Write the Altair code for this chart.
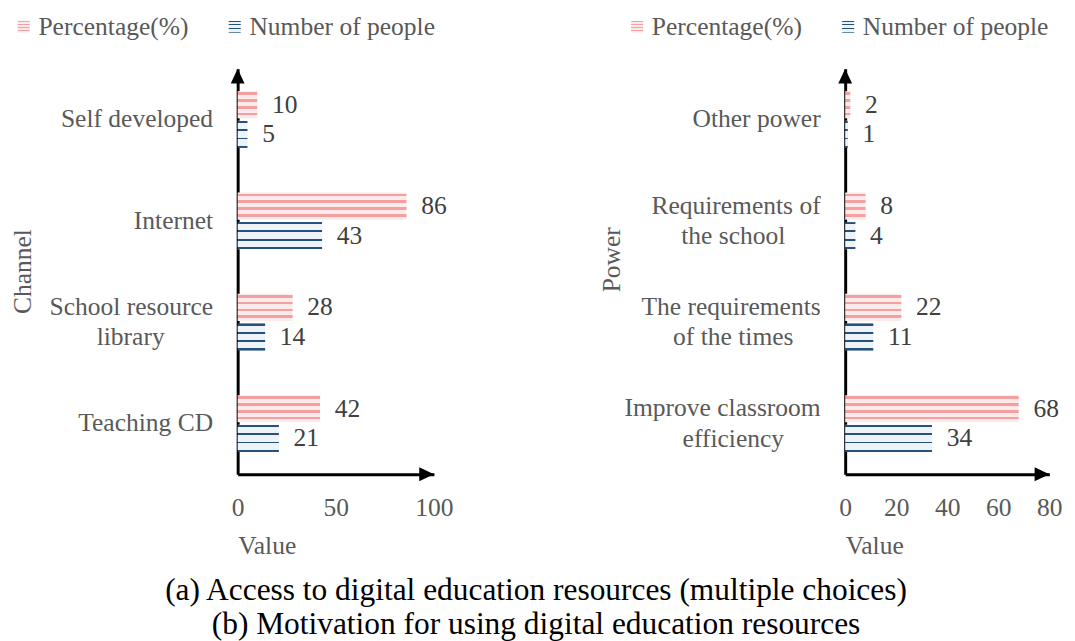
import altair as alt
import pandas as pd

FONT = "Liberation Serif"

# ---------------- data ----------------
series = ["Percentage(%)", "Number of people"]

channels = ["Self developed", "Internet", "School resource library", "Teaching CD"]
channel_lines = [["Self developed"], ["Internet"], ["School resource", "library"], ["Teaching CD"]]
channel_pct = [10, 86, 28, 42]
channel_num = [5, 43, 14, 21]

powers = ["Other power", "Requirements of the school",
          "The requirements of the times", "Improve classroom efficiency"]
power_lines = [["Other power"], ["Requirements of", "the school"],
               ["The requirements", "of the times"], ["Improve classroom", "efficiency"]]
power_pct = [2, 8, 22, 68]
power_num = [1, 4, 11, 34]

ticks_a = [0, 50, 100]
ticks_b = [0, 20, 40, 60, 80]

captions = ["(a) Access to digital education resources (multiple choices)",
            "(b) Motivation for using digital education resources"]


# ---------------- pattern-like fills (striped gradients) ----------------
def grad_expr(base, stripe, bands):
    stops = [(0, base)]
    for a, b in bands:
        stops += [(a, base), (a, stripe), (b, stripe), (b, base)]
    stops.append((1, base))
    s = ", ".join("{offset: %s, color: '%s'}" % (o, c) for o, c in stops)
    return "{gradient: 'linear', x1: 0, y1: 0, x2: 0, y2: 1, stops: [%s]}" % s


pink = grad_expr("#fdeaea", "#f5a0a0", [(0.04, 0.14), (0.29, 0.39), (0.54, 0.64), (0.79, 0.89)])
blue = grad_expr("#eef3f8", "#24517d", [(0.0, 0.08), (0.31, 0.38), (0.62, 0.69), (0.92, 1.0)])

H = 413


def panel(cats, lines, pct, num, xmax, ticks, ytitle, width, legend_x, title_x, title_y, pad2):
    rows = []
    for c, p, n in zip(cats, pct, num):
        rows.append({"category": c, "series": series[0], "value": p})
        rows.append({"category": c, "series": series[1], "value": n})
    df = pd.DataFrame(rows)
    lab = pd.DataFrame({
        "category": cats,
        "line1": [l[0] for l in lines],
        "line2": [l[1] if len(l) > 1 else "" for l in lines],
    })

    y = alt.Y("category:N", sort=cats,
              scale=alt.Scale(paddingInner=0.44, paddingOuter=0.22),
              axis=alt.Axis(labels=False, ticks=False, tickSize=0, domain=True,
                            domainColor="black", domainWidth=3,
                            title=ytitle, titleFont=FONT, titleFontSize=26,
                            titleColor="#595959", titleFontWeight="normal",
                            titleAngle=-90, titleBaseline="alphabetic",
                            titleX=title_x, titleY=title_y))
    x = alt.X("value:Q", scale=alt.Scale(domain=[0, xmax], nice=False),
              axis=alt.Axis(values=ticks, ticks=False, tickSize=0, grid=False,
                            domainColor="black", domainWidth=3,
                            labelFont=FONT, labelFontSize=26, labelColor="#595959",
                            labelPadding=21, labelFlush=False,
                            title="Value", titleFont=FONT, titleFontSize=26,
                            titleColor="#595959", titleFontWeight="normal",
                            titleAnchor="start", titleAlign="left", titlePadding=13))
    yoff = alt.YOffset("series:N", sort=series, scale=alt.Scale(paddingInner=0.08))

    bars = alt.Chart(df).mark_bar(strokeWidth=0).encode(
        x=x, y=y, yOffset=yoff,
        fill=alt.Fill("series:N", sort=series,
                      scale=alt.Scale(domain=series, range=[alt.expr(pink), alt.expr(blue)]),
                      legend=alt.Legend(title=None, orient="none", direction="horizontal",
                                        legendX=legend_x, legendY=-56,
                                        symbolType="square", symbolSize=150,
                                        symbolStrokeWidth=0,
                                        labelFont=FONT, labelFontSize=26,
                                        labelColor="#595959", labelOffset=2,
                                        labelLimit=0, columnPadding=33)),
    )
    values = alt.Chart(df).mark_text(align="left", baseline="middle", dx=15,
                                     font=FONT, fontSize=26, color="#404040").encode(
        x="value:Q", y=y, yOffset=yoff, text="value:Q")

    lab_single = alt.Chart(lab).transform_filter("datum.line2 == ''").mark_text(
        align="right", baseline="middle", font=FONT, fontSize=26, color="#595959").encode(
        x=alt.value(-25), y=y, text="line1:N")
    lab_first = alt.Chart(lab).transform_filter("datum.line2 != ''").mark_text(
        align="right", baseline="middle", dy=-15.5, font=FONT, fontSize=26, color="#595959").encode(
        x=alt.value(-25), y=y, text="line1:N")
    lab_second = alt.Chart(lab).transform_filter("datum.line2 != ''").mark_text(
        align="center", baseline="middle", dy=15.5, font=FONT, fontSize=26, color="#595959").encode(
        x=alt.value(-pad2), y=y, text="line2:N")

    one = alt.Data(values=[{"a": 1}])
    arrow_x = alt.Chart(one).mark_point(
        shape="M0,0L-1,-0.47L-1,0.47Z", filled=True, size=900, color="black",
        opacity=1, strokeWidth=0).encode(x=alt.datum(xmax), y=alt.value(H))
    arrow_y = alt.Chart(one).mark_point(
        shape="M0,0L-0.47,1L0.47,1Z", filled=True, size=900, color="black",
        opacity=1, strokeWidth=0).encode(x=alt.datum(0), y=alt.value(0))

    return alt.layer(bars, values, lab_single, lab_first, lab_second, arrow_x, arrow_y).properties(
        width=width, height=H)


left = panel(channels, channel_lines, channel_pct, channel_num, 100, ticks_a,
             "Channel", 200, -231, -211, 206, 109)
right = panel(powers, power_lines, power_pct, power_num, 80, ticks_b,
              "Power", 208, -225, -230, 194, 114)

chart = alt.hconcat(left, right, spacing=147).resolve_scale(
    fill="independent", x="independent", y="independent"
).properties(
    title=alt.TitleParams(captions, orient="bottom", anchor="middle", font=FONT,
                          fontSize=32, fontWeight="normal", color="black",
                          lineHeight=35, offset=17),
    padding={"left": 1, "top": 0, "right": 5, "bottom": 0},
).configure_view(stroke=None)

chart.save("out.html", embed_options={"renderer": "svg", "actions": False})
